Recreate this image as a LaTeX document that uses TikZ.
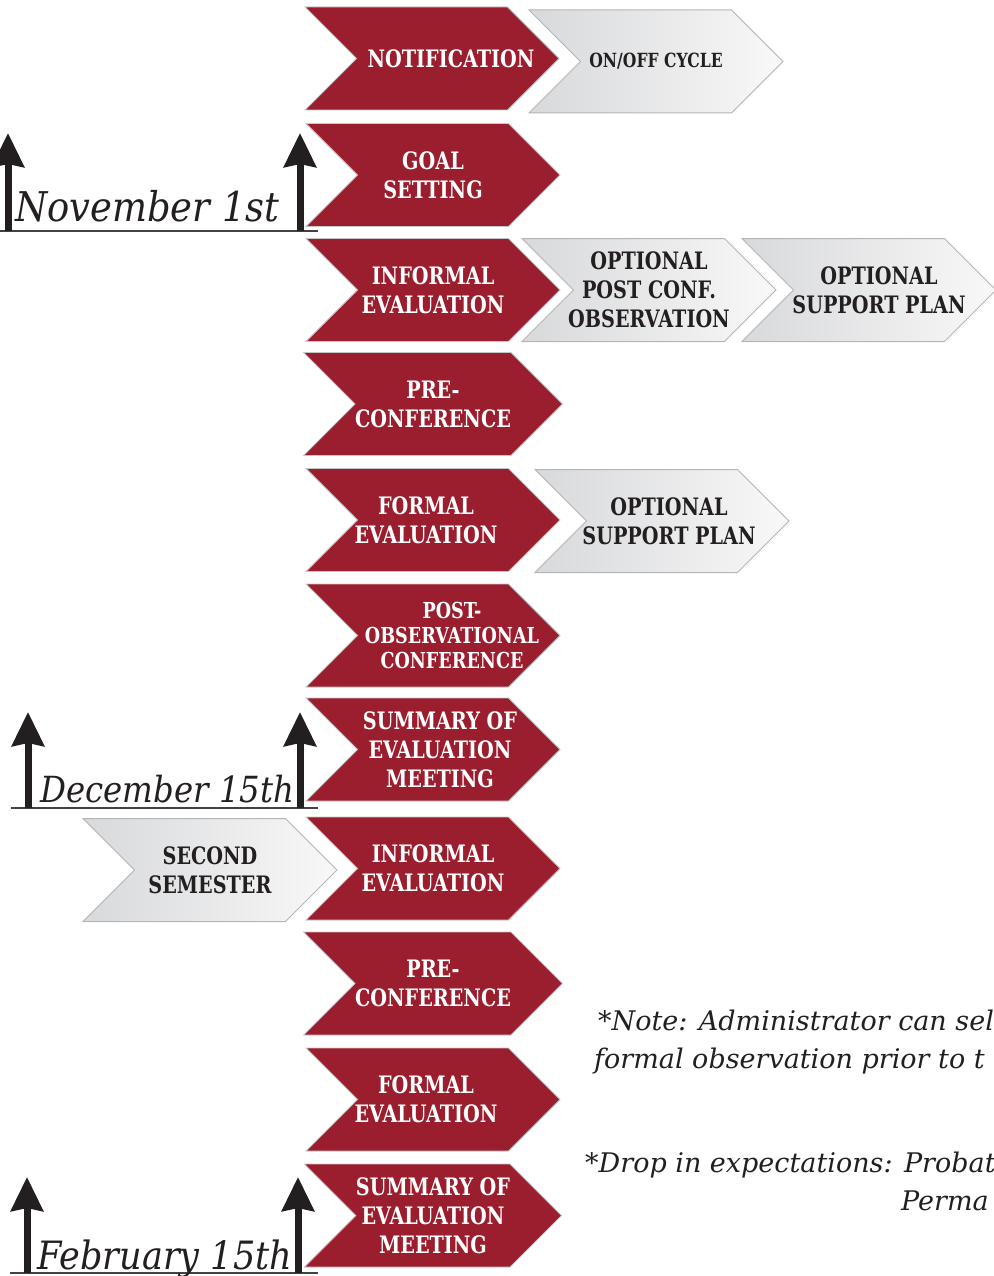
\documentclass[tikz,border=0pt]{standalone}
\usepackage{fontspec}
\usetikzlibrary{positioning,shapes.symbols,arrows.meta}
\newfontfamily\chevfont{DejaVu Serif}[FakeStretch=0.8]
\newfontfamily\datefont{DejaVu Serif}[FakeStretch=0.9]
\newfontfamily\notefont{DejaVu Serif}
\definecolor{chevred}{HTML}{9B1E2E}
\definecolor{graylo}{HTML}{D8D9DB}
\definecolor{grayhi}{HTML}{F8F8F8}
\definecolor{grayedge}{HTML}{B4B5B7}
\definecolor{inkdark}{HTML}{231F20}
% shift one text line sideways by half of #1, keeping the chevron size
\newcommand{\nudge}[2]{\makebox[0pt]{\hspace*{#1}#2}}
\tikzset{
  chev/.style={signal,signal from=west,signal to=east,signal pointer angle=90,
    minimum width=254pt,minimum height=103pt,inner sep=0pt,align=center},
  redchev/.style={chev,fill=chevred,draw=gray!45,line width=0.8pt,text=white,
    font=\chevfont\bfseries\fontsize{24}{29}\selectfont},
  graychev/.style={chev,left color=graylo,right color=grayhi,draw=grayedge,line width=1pt,
    text=inkdark,font=\chevfont\bfseries\fontsize{24}{29}\selectfont},
  datearrow/.style={draw=inkdark,line width=7pt,-{Stealth[length=34pt,width=32pt,inset=3pt]}},
  dateline/.style={draw=inkdark!85,line width=1.6pt},
  datetext/.style={anchor=base west,inner sep=0pt,text=inkdark,
    font=\datefont\itshape\fontsize{41}{41}\selectfont},
  notetext/.style={anchor=base west,inner sep=0pt,text=inkdark,
    font=\notefont\itshape\fontsize{27}{27}\selectfont}
}
\begin{document}
\begin{tikzpicture}[x=1pt,y=-1pt]
    \useasboundingbox (0,0) rectangle (993,1276);

    % main column
    \node[redchev] (notif) at (432,58.5) {\nudge{38pt}{NOTIFICATION}};
    \node[redchev] (goal) at (433,175) {GOAL\\SETTING};
    \node[redchev] (informal1) at (433,290) {INFORMAL\\EVALUATION};
    \node[redchev] (pre1) at (433,404) {PRE-\\CONFERENCE};
    \node[redchev] (formal1) at (433,520) {\nudge{-14pt}{FORMAL}\\\nudge{-14pt}{EVALUATION}};
    \node[redchev,font=\chevfont\bfseries\fontsize{22}{25}\selectfont] (postobs) at (433,635.5)
        {\nudge{38pt}{POST-}\\\nudge{38pt}{OBSERVATIONAL}\\\nudge{38pt}{CONFERENCE}};
    \node[redchev] (summary1) at (433,749.5)
        {\nudge{14pt}{SUMMARY OF}\\\nudge{14pt}{EVALUATION}\\\nudge{14pt}{MEETING}};
    \node[redchev] (informal2) at (433,868.5) {INFORMAL\\EVALUATION};
    \node[redchev] (pre2) at (433,983.5) {PRE-\\CONFERENCE};
    \node[redchev] (formal2) at (433,1099.5) {\nudge{-14pt}{FORMAL}\\\nudge{-14pt}{EVALUATION}};
    \node[redchev] (summary2) at (433,1215.5) {SUMMARY OF\\EVALUATION\\MEETING};

    % side steps
    \node[graychev,font=\chevfont\bfseries\fontsize{19.5}{22}\selectfont] (onoff) at (656,61.5) {ON/OFF CYCLE};
    \node[graychev] (postconf) at (649,290)
        {\nudge{0pt}{OPTIONAL}\\\nudge{0pt}{POST CONF.}\\\nudge{0pt}{OBSERVATION}};
    \node[graychev] (support1) at (869,290) {\nudge{20pt}{OPTIONAL}\\\nudge{20pt}{SUPPORT PLAN}};
    \node[graychev] (support2) at (662,521) {\nudge{14pt}{OPTIONAL}\\\nudge{14pt}{SUPPORT PLAN}};
    \node[graychev] (second) at (210,870) {SECOND\\SEMESTER};

    % dates
    \coordinate (nov-l) at (8,231);
    \coordinate (nov-r) at (300,231);
    \draw[dateline] (0,231) -- (318,231);
    \draw[datearrow] (nov-l) -- ++(0,-98);
    \draw[datearrow] (nov-r) -- ++(0,-98);
    \node[datetext] (nov) at (15,222) {November 1st};

    \coordinate (dec-l) at (28,808);
    \coordinate (dec-r) at (300,808);
    \draw[dateline] (11,808) -- (318,808);
    \draw[datearrow] (dec-l) -- ++(0,-96);
    \draw[datearrow] (dec-r) -- ++(0,-96);
    \node[datetext,font=\datefont\itshape\fontsize{36}{36}\selectfont] (dec) at (40,802) {December 15th};

    \coordinate (feb-l) at (27,1273);
    \coordinate (feb-r) at (298,1273);
    \draw[dateline] (10,1273) -- (318,1273);
    \draw[datearrow] (feb-l) -- ++(0,-96);
    \draw[datearrow] (feb-r) -- ++(0,-96);
    \node[datetext,font=\datefont\itshape\fontsize{39}{39}\selectfont] (feb) at (37,1269) {February 15th};

    % notes
    \node[notetext] (note1) at (598,1030) {*Note: Administrator can sel};
    \node[notetext] (note2) at (594,1068) {formal observation prior to t};
    \node[notetext] (note3) at (585,1172) {*Drop in expectations: Probat};
    \node[notetext] (note4) at (901,1210) {Perma};
\end{tikzpicture}
\end{document}
